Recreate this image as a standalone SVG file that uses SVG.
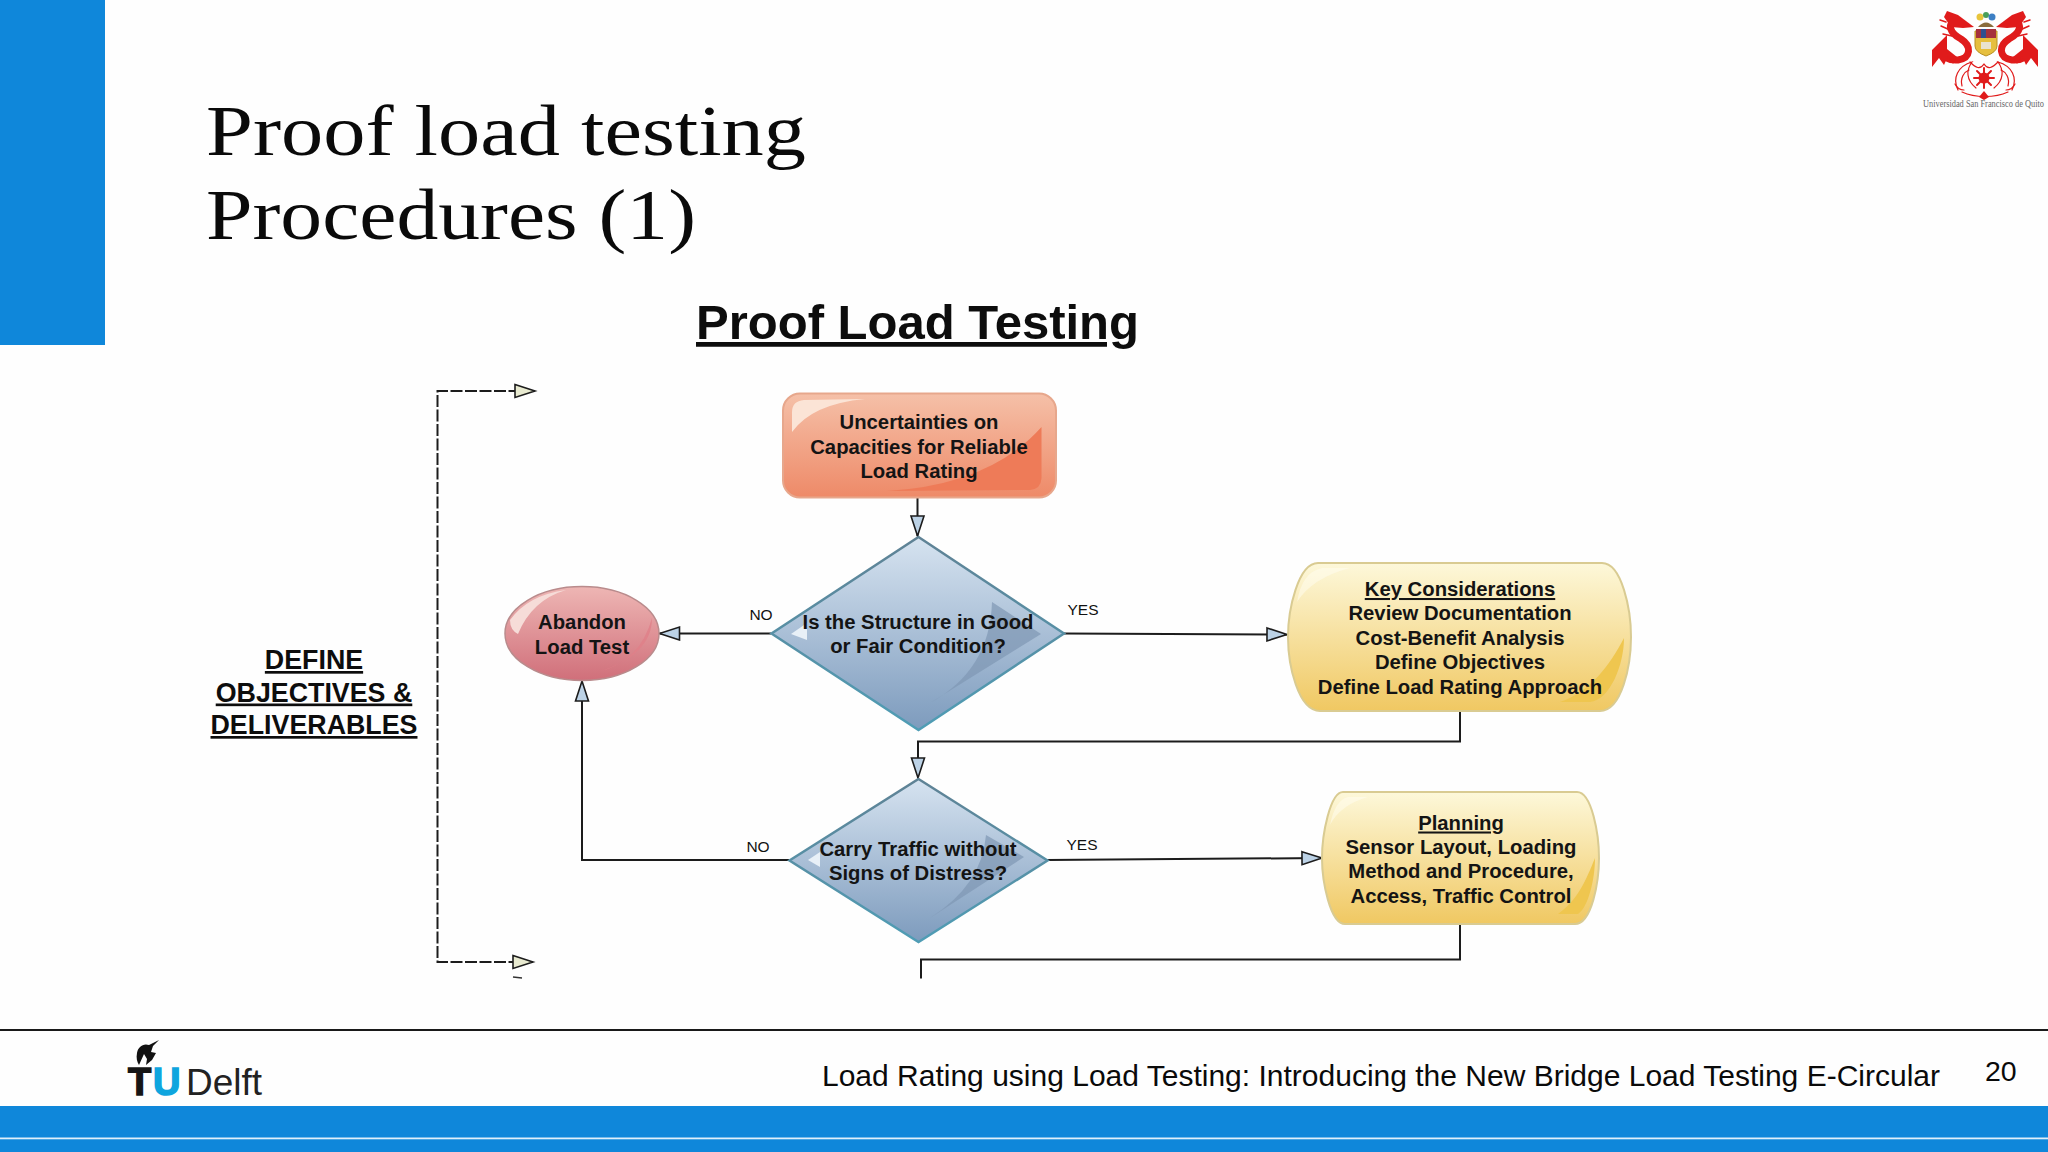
<svg xmlns="http://www.w3.org/2000/svg" width="2048" height="1152" viewBox="0 0 2048 1152">
<style>
.t{font-family:"Liberation Sans",Arial,sans-serif;font-weight:bold;fill:#141414;text-anchor:middle;font-size:20.3px}
.l{font-family:"Liberation Sans",Arial,sans-serif;fill:#111;text-anchor:middle;font-size:15.5px}
.u{text-decoration:underline}
.c{fill:none;stroke:#1c1c1c;stroke-width:2}
.d{fill:none;stroke:#1c1c1c;stroke-width:2;stroke-dasharray:12 2.500}
.h{font-family:"Liberation Serif","Times New Roman",serif;font-size:72px;fill:#0a0a0a}
.f{font-family:"Liberation Sans",Arial,sans-serif;fill:#0a0a0a}
.red{fill:#e01b1b}
.rs{fill:none;stroke:#e01b1b;stroke-linecap:round}
</style>
<defs>
<linearGradient id="gr" x1="0" y1="0" x2="0" y2="1"><stop offset="0" stop-color="#f5c0a8"/><stop offset="1" stop-color="#ee8a68"/></linearGradient>
<linearGradient id="gb" x1="0" y1="0" x2="0" y2="1"><stop offset="0" stop-color="#d6e3f0"/><stop offset="1" stop-color="#7d9bbd"/></linearGradient>
<linearGradient id="gy" x1="0" y1="0" x2="0" y2="1"><stop offset="0" stop-color="#fdf8da"/><stop offset="1" stop-color="#f0c862"/></linearGradient>
<linearGradient id="gp" x1="0" y1="0" x2="0" y2="1"><stop offset="0" stop-color="#eeb6b4"/><stop offset="1" stop-color="#d06f7a"/></linearGradient>
<linearGradient id="gs" x1="0" y1="0" x2="0" y2="1"><stop offset="0" stop-color="#5f8295"/><stop offset="1" stop-color="#4f9db5"/></linearGradient>
<marker id="ab" markerUnits="userSpaceOnUse" markerWidth="24" markerHeight="18" refX="21" refY="8" orient="auto"><path d="M1,1.500L21,8L1,14.500Z" fill="#bcd2e6" stroke="#1c1c1c" stroke-width="1.600"/></marker>
<marker id="ay" markerUnits="userSpaceOnUse" markerWidth="24" markerHeight="18" refX="21" refY="8" orient="auto"><path d="M1,1.500L21,8L1,14.500Z" fill="#e8ead0" stroke="#1c1c1c" stroke-width="1.600"/></marker>
</defs>
<rect width="2048" height="1152" fill="#fefefe"/>
<rect width="105" height="345" fill="#0f87da"/>
<text class="h" x="206" y="155" textLength="600" lengthAdjust="spacingAndGlyphs">Proof load testing</text>
<text class="h" x="206" y="239" textLength="490" lengthAdjust="spacingAndGlyphs">Procedures (1)</text>
<text x="917.500" y="339" text-anchor="middle" class="u" font-family="Liberation Sans,Arial,sans-serif" font-weight="bold" font-size="47.500" fill="#0d0d0d" textLength="443" lengthAdjust="spacingAndGlyphs">Proof Load Testing</text>

<g id="connectors">
<path class="c" d="M917.500,497V536" marker-end="url(#ab)"/>
<path class="c" d="M771,633.500H659.500" marker-end="url(#ab)"/>
<path class="c" d="M1064,633.500L1287,634.500" marker-end="url(#ab)"/>
<path class="c" d="M1460,711V741.500H918V778" marker-end="url(#ab)"/>
<path class="c" d="M789,860H582V681" marker-end="url(#ab)"/>
<path class="c" d="M1047,860L1322,858" marker-end="url(#ab)"/>
<path class="c" d="M921,978.500V959.500H1460V924"/>
<path class="d" d="M535,391H437.500V962H533"/>
<path d="M514,391H535" fill="none" marker-end="url(#ay)" stroke="none"/>
<path d="M513,962H533" fill="none" stroke="none" marker-end="url(#ay)"/>
<path d="M513,977L522,978" stroke="#333" stroke-width="1.500" fill="none"/>
<text class="l" x="761" y="619.500">NO</text>
<text class="l" x="1083" y="615">YES</text>
<text class="l" x="758" y="851.500">NO</text>
<text class="l" x="1082" y="850">YES</text>
</g>

<g id="n-uncertainties">
<rect x="783" y="393.500" width="273" height="104" rx="17" fill="url(#gr)" stroke="#e7a78c" stroke-width="2"/>
<path d="M792,432V412Q792,401 804,400L865,399Q812,404 792,432Z" fill="#fbe4d6"/>
<path d="M1041.500,427V478Q1041,489 1030,490L887,491Q990,485 1041.500,427Z" fill="#ee7b58"/>
<text class="t"><tspan x="919" y="429">Uncertainties on</tspan><tspan x="919" y="453.500">Capacities for Reliable</tspan><tspan x="919" y="478">Load Rating</tspan></text>
</g>

<g id="n-condition">
<path d="M918.500,537L1064,633.500L918.500,730L771.500,633.500Z" fill="url(#gb)" stroke="url(#gs)" stroke-width="2.500"/>
<path d="M992,602L1041,634L930,703Q990,670 992,602Z" fill="#7f97b3" opacity=".7"/>
<path d="M791,634L807,623V640Z" fill="#e8f0f7"/>
<text class="t"><tspan x="918" y="628.500">Is the Structure in Good</tspan><tspan x="918" y="653">or Fair Condition?</tspan></text>
</g>

<g id="n-traffic">
<path d="M918.500,779L1047.500,860.500L918.500,942L789.500,860.500Z" fill="url(#gb)" stroke="url(#gs)" stroke-width="2.500"/>
<path d="M986,835L1024,857L930,918Q982,885 986,835Z" fill="#7f97b3" opacity=".7"/>
<path d="M808,860L820,852V867Z" fill="#e8f0f7"/>
<text class="t"><tspan x="918" y="855.500">Carry Traffic without</tspan><tspan x="918" y="880">Signs of Distress?</tspan></text>
</g>

<g id="n-abandon">
<ellipse cx="582" cy="633.500" rx="77" ry="47" fill="url(#gp)" stroke="#b98b8c" stroke-width="1.500"/>
<path d="M510,620Q528,595 566,590Q532,600 518,634Q510,630 510,620Z" fill="#f6dcd8"/>
<path d="M598,672Q640,662 652,618Q652,655 598,672Z" fill="#e08088" opacity=".8"/>
<text class="t"><tspan x="582" y="629">Abandon</tspan><tspan x="582" y="654">Load Test</tspan></text>
</g>

<g id="n-key">
<path d="M1318,563H1602C1622,563 1631,610 1631,637C1631,665 1622,711 1600,711H1320C1298,711 1288,665 1288,637C1288,610 1298,563 1318,563Z" fill="url(#gy)" stroke="#d9cb92" stroke-width="2"/>
<path d="M1624,638C1624,665 1610,700 1590,702L1560,702C1590,692 1610,665 1624,638Z" fill="#efc64f"/>
<path d="M1297,602Q1302,572 1322,568H1350Q1312,578 1297,602Z" fill="#fffdf2" opacity=".5"/>
<text class="t"><tspan class="u" x="1460" y="596">Key Considerations</tspan><tspan x="1460" y="620">Review Documentation</tspan><tspan x="1460" y="645">Cost-Benefit Analysis</tspan><tspan x="1460" y="669">Define Objectives</tspan><tspan x="1460" y="694">Define Load Rating Approach</tspan></text>
</g>

<g id="n-planning">
<path d="M1343,792H1577C1592,792 1599,835 1599,858C1599,881 1592,924 1575,924H1345C1330,924 1322,881 1322,858C1322,835 1330,792 1343,792Z" fill="url(#gy)" stroke="#d9cb92" stroke-width="2"/>
<path d="M1595,858C1595,880 1588,908 1578,914L1558,914C1578,900 1586,880 1595,858Z" fill="#efc64f"/>
<path d="M1330,825Q1335,800 1348,797H1368Q1340,805 1330,825Z" fill="#fffdf2" opacity=".5"/>
<text class="t"><tspan class="u" x="1461" y="829.500">Planning</tspan><tspan x="1461" y="854">Sensor Layout, Loading</tspan><tspan x="1461" y="878">Method and Procedure,</tspan><tspan x="1461" y="903">Access, Traffic Control</tspan></text>
</g>

<g id="n-define">
<text class="t u" style="font-size:26.800px;fill:#0d0d0d"><tspan x="314" y="669">DEFINE</tspan><tspan x="314" y="701.500">OBJECTIVES &amp;</tspan><tspan x="314" y="734">DELIVERABLES</tspan></text>
</g>

<g id="footer">
<rect y="1029" width="2048" height="2" fill="#1a1a1a"/>
<rect y="1106" width="2048" height="46" fill="#0f87da"/>
<rect y="1137.500" width="2048" height="1.800" fill="#dff0fb"/>
<text class="f" x="822" y="1086" font-size="29.500" textLength="1118" lengthAdjust="spacingAndGlyphs">Load Rating using Load Testing: Introducing the New Bridge Load Testing E-Circular</text>
<text class="f" x="1985" y="1081" font-size="28.500">20</text>
<path d="M159,1040L149,1045C143,1043 138,1047 137,1053C136,1058 137,1062 139,1065L144,1054L147,1059L146,1065L152,1060L156,1053L151,1052L153,1046Z" fill="#111"/>
<text font-family="Liberation Sans,Arial,sans-serif" font-weight="bold" font-size="38" fill="#151515" stroke="#151515" stroke-width="1.500" x="128" y="1095">T</text>
<text font-family="Liberation Sans,Arial,sans-serif" font-weight="bold" font-size="38" fill="#0ea5de" stroke="#0ea5de" stroke-width="1.500" x="153" y="1095">U</text>
<text font-family="Liberation Sans,Arial,sans-serif" font-size="36" fill="#222" x="186" y="1095" textLength="76" lengthAdjust="spacingAndGlyphs">Delft</text>
</g>

<g id="crest">
<g id="dragon">
<path class="rs" stroke-width="7" d="M1957,20C1946,24 1950,33 1961,39C1972,46 1971,58 1958,60C1948,61 1943,56 1938,50"/>
<path class="red" d="M1947,11L1958,15L1974,27L1963,28L1951,27L1944,17Z"/>
<path class="red" d="M1947,35L1932,50L1932,67L1939,58L1944,65L1948,56L1953,64L1957,57L1947,49Z"/>
<path class="rs" stroke-width="1.500" d="M1950,30L1941,26M1952,36L1943,34M1946,22L1940,20"/>
</g>
<use href="#dragon" transform="translate(3970,0) scale(-1,1)"/>
<path d="M1975,31H1997V46Q1997,52 1986,56Q1975,52 1975,46Z" fill="#e6bf3e" stroke="#b89024"/>
<rect x="1976" y="29" width="20" height="9" fill="#a5313c"/>
<rect x="1981" y="29" width="5" height="9" fill="#2f4f8f"/>
<rect x="1981" y="42" width="10" height="7" fill="#e9e3cf"/>
<circle cx="1980" cy="17" r="3.500" fill="#e8c53c"/>
<circle cx="1986" cy="15" r="3" fill="#4a9f5a"/>
<circle cx="1992" cy="17" r="3.500" fill="#3d7fc4"/>
<path d="M1978,27Q1986,18 1994,27Z" fill="#8a6d3c"/>
<g class="rs" stroke-width="1.200">
<path d="M1958,90C1952,78 1958,66 1972,62C1966,70 1966,80 1976,88"/>
<path d="M2012,90C2018,78 2012,66 1998,62C2004,70 2004,80 1994,88"/>
<path d="M1962,92C1975,98 1995,98 2008,92"/>
<path d="M1962,86C1960,78 1964,72 1969,70M2008,86C2010,78 2006,72 2001,70"/>
<path d="M1955,84C1957,88 1960,90 1964,90M2015,84C2013,88 2010,90 2006,90"/>
<path d="M1970,62C1976,68 1980,70 1984,64C1988,70 1992,68 1998,62"/>
</g>
<circle class="red" cx="1984" cy="78" r="5.500"/>
<path class="rs" stroke-width="2" d="M1984,68V88M1974,78H1994M1977,71L1991,85M1991,71L1977,85"/>
<path class="red" d="M1984,91L1989,97L1984,100L1979,97Z"/>
<text x="1923" y="107" font-family="Liberation Serif,Times New Roman,serif" font-size="10" fill="#666" textLength="121" lengthAdjust="spacingAndGlyphs">Universidad San Francisco de Quito</text>
</g>
</svg>
